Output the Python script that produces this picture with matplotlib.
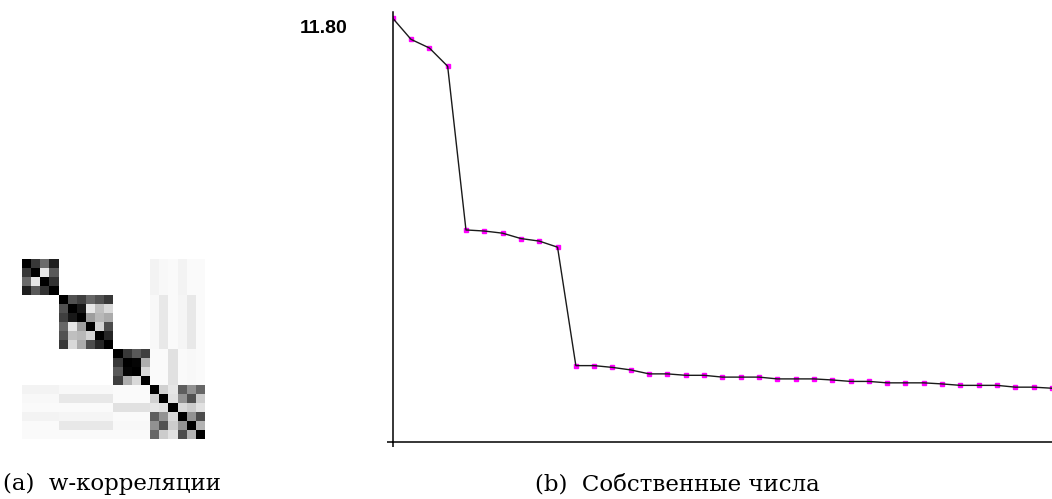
import numpy as np
import matplotlib
matplotlib.use("Agg")
import matplotlib.pyplot as plt

# eigenvalues
eigvals = [11.80, 11.21, 10.97, 10.46, 5.90, 5.87, 5.81, 5.66, 5.59, 5.42,
           2.12, 2.12, 2.07, 2.00, 1.89, 1.89, 1.85, 1.85, 1.80, 1.80,
           1.80, 1.75, 1.75, 1.75, 1.72, 1.68, 1.68, 1.64, 1.64, 1.64,
           1.61, 1.57, 1.57, 1.57, 1.52, 1.52, 1.49]
max_label = "11.80"

# w-correlation blocks (diagonal groups of components)
block_a = [[1.00, 0.78, 0.58, 0.88],
           [0.78, 1.00, 0.10, 0.65],
           [0.58, 0.10, 1.00, 0.80],
           [0.88, 0.65, 0.80, 1.00]]
block_b = [[1.00, 0.68, 0.75, 0.60, 0.68, 0.78],
           [0.68, 1.00, 0.90, 0.10, 0.25, 0.15],
           [0.75, 0.90, 1.00, 0.38, 0.28, 0.33],
           [0.60, 0.10, 0.38, 1.00, 0.17, 0.70],
           [0.68, 0.25, 0.28, 0.17, 1.00, 0.85],
           [0.78, 0.15, 0.33, 0.70, 0.85, 1.00]]
block_c = [[1.00, 0.78, 0.65, 0.75],
           [0.78, 1.00, 0.98, 0.32],
           [0.65, 0.98, 1.00, 0.15],
           [0.75, 0.32, 0.15, 1.00]]
block_d = [[1.00, 0.18, 0.10, 0.63, 0.43, 0.60],
           [0.18, 1.00, 0.12, 0.42, 0.68, 0.20],
           [0.10, 0.12, 1.00, 0.15, 0.20, 0.12],
           [0.63, 0.42, 0.15, 1.00, 0.42, 0.70],
           [0.43, 0.68, 0.20, 0.42, 1.00, 0.30],
           [0.60, 0.20, 0.12, 0.70, 0.30, 1.00]]
# weak correlations of the first three groups with the last one
off_a_d = [0.05, 0.03, 0.02, 0.05, 0.02, 0.02]
off_b_d = [0.03, 0.09, 0.02, 0.04, 0.09, 0.02]
off_c_d = [0.02, 0.02, 0.12, 0.02, 0.03, 0.02]

caption_a = "(a)  w-корреляции"
caption_b = "(b)  Собственные числа"

blocks = [block_a, block_b, block_c, block_d]
sizes = [len(b) for b in blocks]
n = sum(sizes)
W = np.zeros((n, n))
starts = np.cumsum([0] + sizes)
for b, s in zip(blocks, starts):
    W[s:s + len(b), s:s + len(b)] = b
d0 = starts[3]
for off, s, k in [(off_a_d, starts[0], sizes[0]), (off_b_d, starts[1], sizes[1]),
                  (off_c_d, starts[2], sizes[2])]:
    W[s:s + k, d0:] = off
    W[d0:, s:s + k] = np.array(off)[:, None]

fig = plt.figure(figsize=(10.52, 4.99), dpi=100)

ax1 = fig.add_axes([0.0212, 0.1196, 0.1737, 0.3607])
ax1.imshow(W, cmap="gray_r", vmin=0, vmax=1, interpolation="nearest", aspect="auto")
ax1.axis("off")

ax2 = fig.add_axes([0.3733, 0.1148, 0.6267, 0.861])
x = np.arange(len(eigvals))
ax2.plot(x, eigvals, ls="none", marker="s", ms=3.4, color="#ff00ff", mec="#ff00ff", zorder=2)
ax2.plot(x, eigvals, color="#1a1a1a", lw=1.0, zorder=3)
ax2.set_xlim(0, len(eigvals) - 1)
ax2.set_ylim(0, 11.97)
for side in ["top", "right"]:
    ax2.spines[side].set_visible(False)
for side in ["left", "bottom"]:
    ax2.spines[side].set_linewidth(1.1)
ax2.set_xticks([0])
ax2.set_yticks([0])
ax2.set_xticklabels([])
ax2.set_yticklabels([])
ax2.tick_params(axis="x", length=3.6, width=1.1, direction="out")
ax2.tick_params(axis="y", length=4.3, width=1.1, direction="out")

fig.text(300 / 1052, 1 - 28.5 / 499, max_label, fontsize=14, fontweight="bold",
         family="Liberation Sans", va="center", ha="left")
fig.text(3 / 1052, 1 - 484 / 499, caption_a, fontsize=16.5, family="DejaVu Serif",
         va="center", ha="left")
fig.text(535 / 1052, 1 - 484 / 499, caption_b, fontsize=16.5, family="DejaVu Serif",
         va="center", ha="left")

fig.savefig("out.png", dpi=100)
